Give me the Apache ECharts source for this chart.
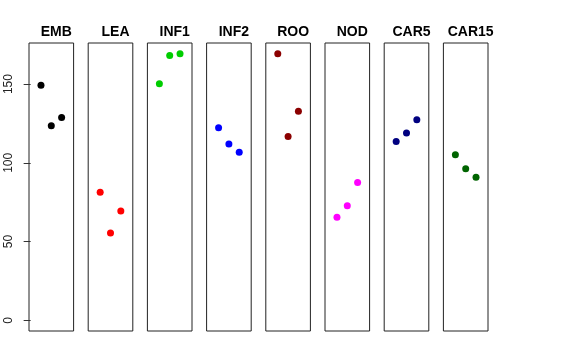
<!DOCTYPE html>
<html>
<head>
<meta charset="utf-8">
<script src="https://cdn.jsdelivr.net/npm/echarts@6/dist/echarts.min.js"></script>
<style>html,body{margin:0;padding:0;background:#fff}#c{width:576px;height:360px}</style>
</head>
<body>
<div id="c"></div>
<script>
const panels = ['EMB', 'LEA', 'INF1', 'INF2', 'ROO', 'NOD', 'CAR5', 'CAR15'];
const EMB = [149.2, 123.5, 128.8];
const LEA = [81.4, 55.5, 69.5];
const INF1 = [150.2, 168.2, 169.3];
const INF2 = [122.3, 111.9, 106.8];
const ROO = [169.3, 116.7, 132.8];
const NOD = [65.5, 72.7, 87.5];
const CAR5 = [113.6, 118.9, 127.4];
const CAR15 = [105.1, 96.2, 90.9];
const values = [EMB, LEA, INF1, INF2, ROO, NOD, CAR5, CAR15];
const colors = ['#000000', '#FF0000', '#00CD00', '#0000FF', '#8B0000', '#FF00FF', '#000080', '#006400'];
const yTicks = [0, 50, 100, 150];

const font = 'Liberation Sans, Arial, Helvetica, sans-serif';
const gLeft0 = 29, gStep = 59.2, gW = 44.6, gTop = 43, gH = 288;
const yMin = -6.77, yMax = 176.1;

const grid = [], xAxis = [], yAxis = [], series = [], title = [];
panels.forEach((p, i) => {
  const l = gLeft0 + i * gStep;
  grid.push({left: l, top: gTop, width: gW, height: gH, show: true, borderColor: '#222', borderWidth: 1, backgroundColor: 'transparent', containLabel: false});
  xAxis.push({gridIndex: i, type: 'value', min: -0.16, max: 4.16, show: false});
  yAxis.push({
    gridIndex: i, type: 'value', min: yMin, max: yMax, show: i === 0,
    axisLine: {show: false},
    splitLine: {show: false},
    axisTick: {show: true, length: 7, customValues: yTicks, lineStyle: {color: '#333'}},
    axisLabel: {show: true, customValues: yTicks, rotate: 90, margin: 14, color: '#222', fontSize: 12, fontFamily: font}
  });
  series.push({
    type: 'scatter', xAxisIndex: i, yAxisIndex: i, symbolSize: 7,
    itemStyle: {color: colors[i], opacity: 1},
    data: values[i].map((v, k) => [k + 1, v]),
    silent: true, animation: false
  });
  title.push({text: p, left: l + gW / 2, top: 20, textAlign: 'center',
    textStyle: {fontSize: 14, fontWeight: 'bold', color: '#000', fontFamily: font}});
});

const chart = echarts.init(document.getElementById('c'));
chart.setOption({animation: false, title, grid, xAxis, yAxis, series});
</script>
</body>
</html>
